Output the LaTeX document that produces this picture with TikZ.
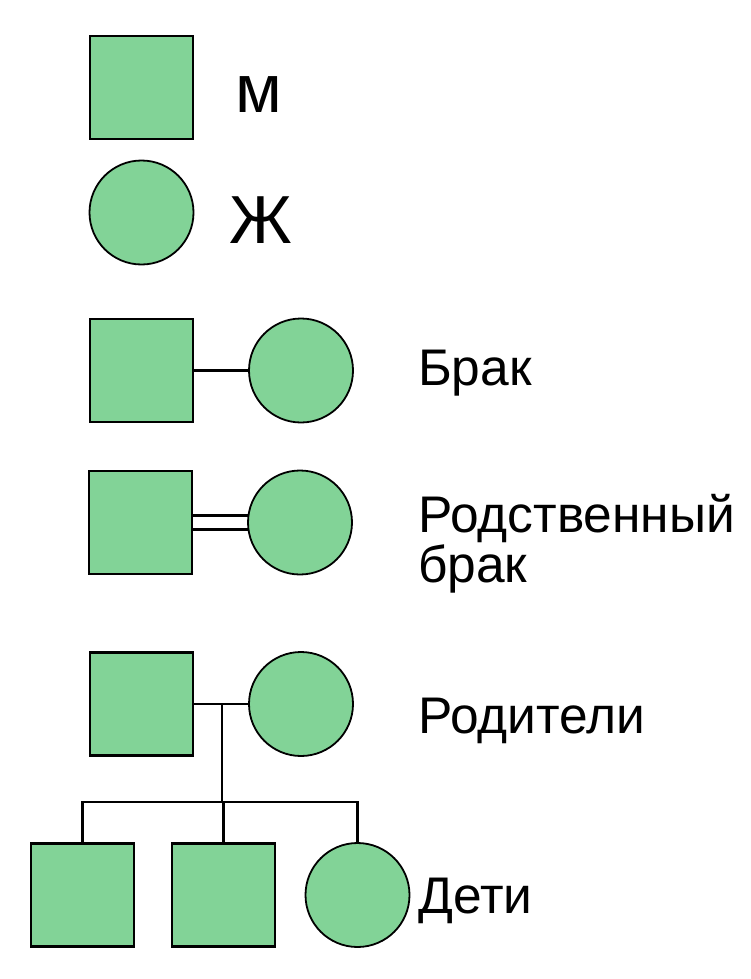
\documentclass[tikz,border=0pt]{standalone}
\usepackage{fontspec}
\setmainfont{Liberation Sans}
\definecolor{gfill}{HTML}{82D397}
\begin{document}
\begin{tikzpicture}[x=1pt,y=-1pt,
  sq/.style={draw=black,line width=2.4pt,fill=gfill,rectangle,minimum size=103pt,inner sep=0pt,outer sep=0pt},
  ci/.style={draw=black,line width=1.8pt,fill=gfill,circle,minimum size=104pt,inner sep=0pt,outer sep=0pt},
  conn/.style={draw=black,line width=2.7pt},
  lbl/.style={anchor=base west,inner sep=0pt,font=\fontsize{51.5}{50}\selectfont},
  lblb/.style={anchor=base west,inner sep=0pt,font=\fontsize{51.5}{60}\selectfont},
  lblc/.style={anchor=base west,inner sep=0pt,font=\fontsize{68}{70}\selectfont}]
\useasboundingbox (0,0) rectangle (750,979);
% legend
\node[sq] (m1) at (141.5,87.5) {};
\node[lblc] (tm) at (235,113) {м};
\node[ci] (f1) at (141.5,212.5) {};
\node[lblc] (tf) at (229,243) {Ж};
% marriage
\node[sq] (m2) at (141.5,370.5) {};
\node[ci] (f2) at (301,370.5) {};
\draw[conn] (m2.east) -- (f2.west);
\node[lbl] (t2) at (418,385) {Брак};
% consanguineous marriage
\node[sq] (m3) at (140.5,522.5) {};
\node[ci] (f3) at (300,522.5) {};
\draw[conn] ([yshift=-7pt]m3.east) -- ([yshift=-7pt]f3.west);
\draw[conn] ([yshift=7pt]m3.east) -- ([yshift=7pt]f3.west);
\node[lbl] (t3a) at (418,532) {Родственный};
\node[lbl] (t3b) at (418,582) {брак};
% parents
\node[sq] (m4) at (141.5,704) {};
\node[ci] (f4) at (301,704) {};
\draw[conn] (m4.east) -- (f4.west);
\coordinate (pm) at (222,704);
\coordinate (pb) at (222,802);
\node[lblb] (t4) at (418,733) {Родители};
% children
\node[sq] (c1) at (82.5,895) {};
\node[sq] (c2) at (223.5,895) {};
\node[ci] (c3) at (357.5,895) {};
\coordinate (hl) at (82.5,802);
\coordinate (hr) at (357.5,802);
\draw[conn] (pm) -- (pb);
\draw[conn] ([xshift=-1.35pt]hl) -- ([xshift=1.35pt]hr);
\draw[conn] (hl) -- (c1.north);
\draw[conn] (c2.north |- pb) -- (c2.north);
\draw[conn] (hr) -- (c3.north);
\node[lblb] (t5) at (418,913) {Дети};
\end{tikzpicture}
\end{document}
